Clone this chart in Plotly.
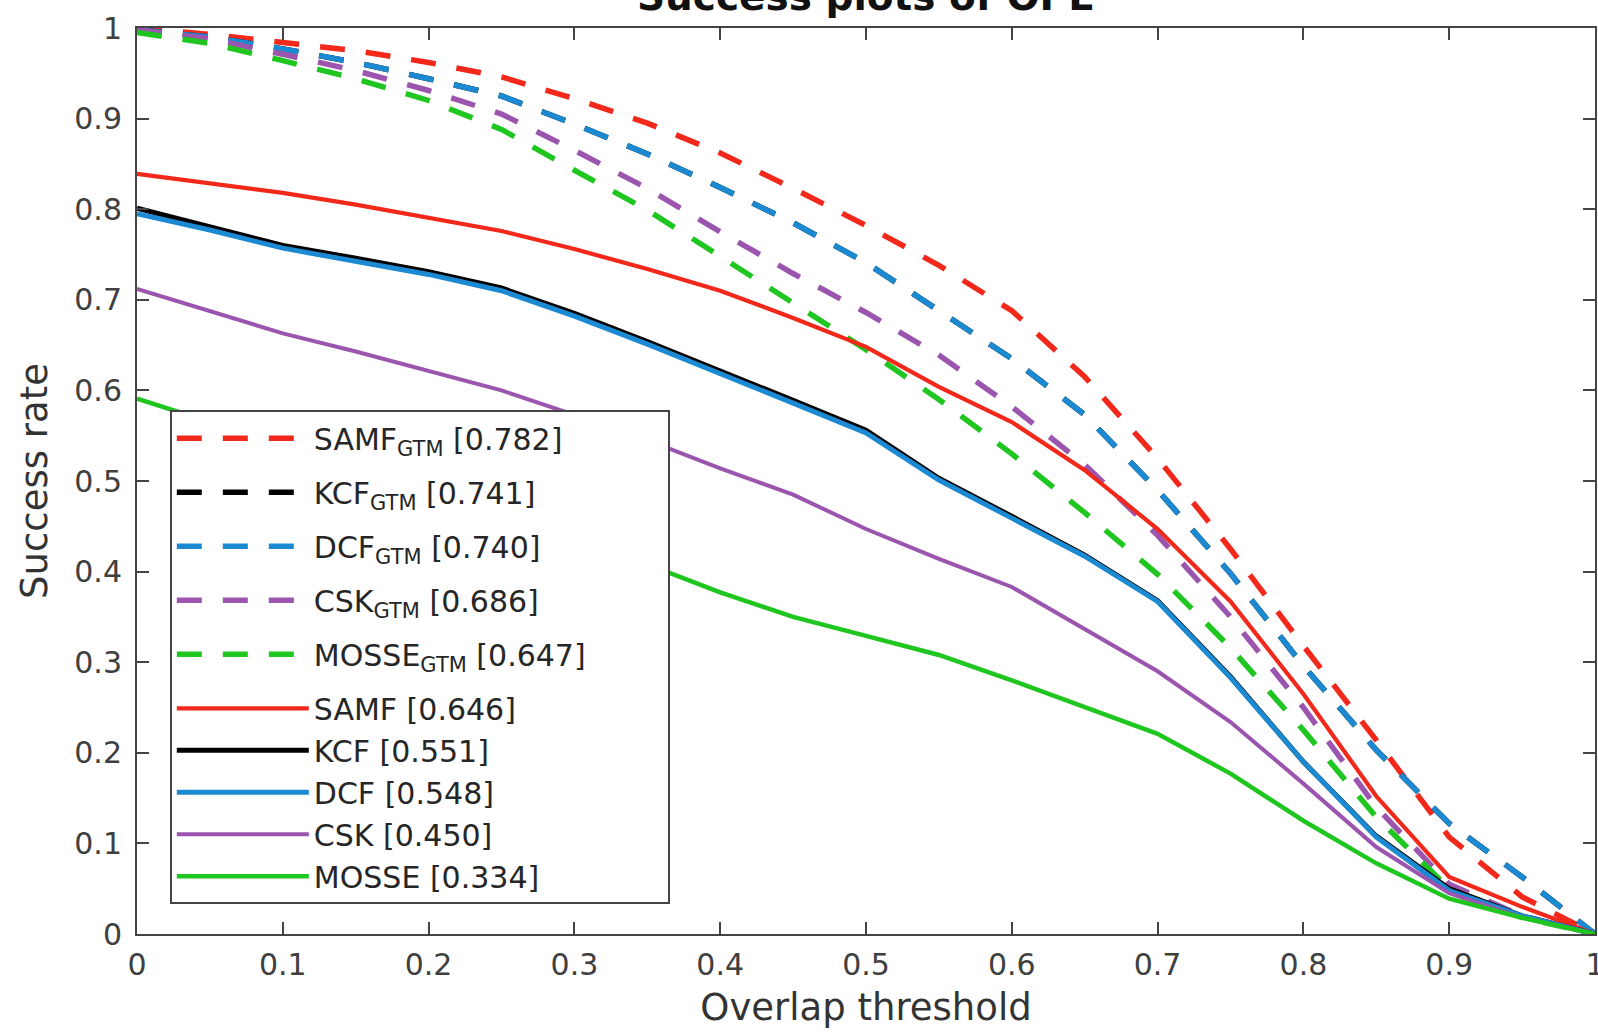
import plotly.graph_objects as go

# Overlap thresholds (x)
thresholds = [0.00, 0.05, 0.10, 0.15, 0.20, 0.25, 0.30, 0.35, 0.40, 0.45, 0.50,
              0.55, 0.60, 0.65, 0.70, 0.75, 0.80, 0.85, 0.90, 0.95, 1.00]

# Success rates
samf_gtm = [1.000, 0.993, 0.984, 0.975, 0.962, 0.946, 0.922, 0.895, 0.862, 0.823, 0.782,
            0.738, 0.688, 0.615, 0.525, 0.425, 0.318, 0.214, 0.107, 0.041, 0.000]
kcf_gtm = [0.998, 0.990, 0.977, 0.962, 0.944, 0.925, 0.894, 0.861, 0.824, 0.785, 0.741,
           0.688, 0.635, 0.573, 0.490, 0.398, 0.296, 0.203, 0.122, 0.063, 0.000]
dcf_gtm = [0.998, 0.990, 0.977, 0.962, 0.944, 0.925, 0.894, 0.861, 0.824, 0.785, 0.741,
           0.688, 0.635, 0.573, 0.490, 0.398, 0.296, 0.203, 0.122, 0.063, 0.000]
csk_gtm = [0.998, 0.988, 0.971, 0.953, 0.931, 0.905, 0.865, 0.823, 0.775, 0.729, 0.686,
           0.639, 0.582, 0.518, 0.440, 0.350, 0.250, 0.140, 0.055, 0.020, 0.000]
mosse_gtm = [0.995, 0.983, 0.964, 0.944, 0.920, 0.888, 0.843, 0.799, 0.748, 0.697, 0.645,
             0.590, 0.530, 0.465, 0.397, 0.316, 0.225, 0.129, 0.050, 0.018, 0.000]
samf = [0.839, 0.829, 0.818, 0.805, 0.791, 0.776, 0.756, 0.734, 0.710, 0.680, 0.648,
        0.604, 0.565, 0.512, 0.447, 0.367, 0.265, 0.152, 0.063, 0.030, 0.000]
kcf = [0.801, 0.781, 0.760, 0.746, 0.731, 0.713, 0.685, 0.654, 0.622, 0.589, 0.556,
       0.503, 0.461, 0.418, 0.368, 0.284, 0.190, 0.108, 0.050, 0.020, 0.000]
dcf = [0.795, 0.777, 0.757, 0.743, 0.728, 0.710, 0.682, 0.651, 0.619, 0.586, 0.553,
       0.501, 0.459, 0.417, 0.367, 0.283, 0.190, 0.107, 0.048, 0.020, 0.000]
csk = [0.712, 0.688, 0.663, 0.643, 0.622, 0.600, 0.573, 0.545, 0.514, 0.485, 0.447,
       0.414, 0.383, 0.337, 0.290, 0.234, 0.166, 0.096, 0.045, 0.018, 0.000]
mosse = [0.591, 0.565, 0.540, 0.513, 0.487, 0.462, 0.437, 0.408, 0.377, 0.350, 0.329,
         0.308, 0.280, 0.250, 0.221, 0.177, 0.125, 0.078, 0.039, 0.018, 0.000]

series_names = ["SAMF<sub>GTM</sub> [0.782]", "KCF<sub>GTM</sub> [0.741]",
                "DCF<sub>GTM</sub> [0.740]", "CSK<sub>GTM</sub> [0.686]",
                "MOSSE<sub>GTM</sub> [0.647]", "SAMF [0.646]", "KCF [0.551]",
                "DCF [0.548]", "CSK [0.450]", "MOSSE [0.334]"]
series_values = [samf_gtm, kcf_gtm, dcf_gtm, csk_gtm, mosse_gtm,
                 samf, kcf, dcf, csk, mosse]

tick_vals = [0, 0.1, 0.2, 0.3, 0.4, 0.5, 0.6, 0.7, 0.8, 0.9, 1]
tick_text = ["0", "0.1", "0.2", "0.3", "0.4", "0.5", "0.6", "0.7", "0.8", "0.9", "1"]

# styles
RED, BLACK, BLUE, PURPLE, GREEN = "#F2281B", "#000000", "#1C8AD2", "#9B55AE", "#20C620"
colors = [RED, BLACK, BLUE, PURPLE, GREEN, RED, BLACK, BLUE, PURPLE, GREEN]
dashes = ["25px,21px"] * 5 + ["solid"] * 5
widths = [5.5, 5.5, 5.5, 5.5, 5.5, 4.2, 5, 5, 4, 4.5]
groups = ["g1", "g2", "g3", "g4", "g5", "s", "s", "s", "s", "s"]
NBSP = "\u00a0"
pads = ["", "", "", "", NBSP * 8, "", "", "", "", ""]

FONT = "DejaVu Sans"
AXC = "#444444"

fig = go.Figure()
for name, vals, c, d, w, g, p in zip(series_names, series_values, colors, dashes,
                                     widths, groups, pads):
    fig.add_trace(go.Scatter(
        x=thresholds, y=vals, mode="lines", name=name + p, legendgroup=g,
        line=dict(color=c, dash=d, width=w),
    ))

axis_common = dict(
    range=[0, 1], tickmode="array", tickvals=tick_vals, ticktext=tick_text,
    showgrid=False, zeroline=False, showline=True, linecolor=AXC, linewidth=2,
    mirror="ticks", ticks="inside", ticklen=12, tickwidth=2, tickcolor=AXC,
    tickfont=dict(family=FONT, size=30, color="#404040"), automargin=False,
    ticklabeloverflow="allow",
)

fig.update_layout(
    width=1598, height=1034,
    margin=dict(l=137, r=3, t=28, b=100, autoexpand=False),
    paper_bgcolor="white", plot_bgcolor="white",
    xaxis=dict(**axis_common, ticklabelstandoff=3,
               title=dict(text="Overlap threshold", standoff=13,
                          font=dict(family=FONT, size=37, color="#333333"))),
    yaxis=dict(**axis_common, ticklabelstandoff=7,
               title=dict(text="Success rate", standoff=15,
                          font=dict(family=FONT, size=37, color="#333333"))),
    legend=dict(
        x=0.0225, y=0.578, xanchor="left", yanchor="top",
        bgcolor="white", bordercolor=AXC, borderwidth=2,
        font=dict(family=FONT, size=30, color="#262626"),
        itemwidth=132, tracegroupgap=12,
    ),
    showlegend=True,
    annotations=[dict(
        text="<b>Success plots of OPE</b>", xref="paper", yref="paper",
        x=0.5, y=1, xanchor="center", yanchor="bottom", yshift=7,
        showarrow=False, font=dict(family=FONT, size=39, color="#111111"),
    )],
)

fig.write_html("out.html",
               config={"displayModeBar": False},
               post_script="document.body.style.margin='0';document.body.style.overflow='hidden';")
